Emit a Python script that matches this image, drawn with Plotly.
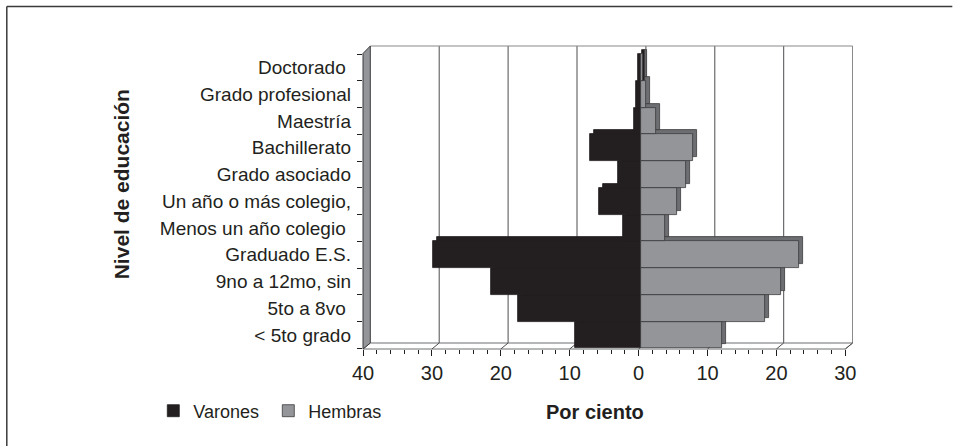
import plotly.graph_objects as go

# ---------------- data ----------------
categorias = ["< 5to grado", "5to a 8vo\u00a0", "9no a 12mo, sin", "Graduado E.S.",
              "Menos un año colegio\u00a0", "Un año o más colegio,", "Grado asociado",
              "Bachillerato", "Maestría", "Grado profesional", "Doctorado\u00a0"]
varones = [9.5, 17.8, 21.8, 30.2, 2.6, 6.0, 3.3, 7.4, 1.0, 0.65, 0.45]
hembras = [11.8, 18.0, 20.3, 23.0, 3.5, 5.2, 6.6, 7.6, 2.25, 0.8, 0.3]
tick_values = [-40, -30, -20, -10, 0, 10, 20, 30]
tick_labels = ["40", "30", "20", "10", "0", "10", "20", "30"]
minor_values = list(range(-40, 31, 2))

# ---------------- geometry (pixels) ----------------
W, H = 961, 446
PL, PR, PT, PB = 362.7, 852.7, 46.0, 349.0
pw, ph = PR - PL, PB - PT
SCALE = 6.89            # px per percent unit
BACK_DX = 7.3           # back wall offset (px)
FLOOR_DY = 6.0          # floor depth (px)
BAR_DX = 2.2            # bar front plane offset from axis front
DEPTH = 4.0             # bar extrusion (px)
BAND_BOTTOM, BAND_TOP = 348.3, 54.0
band_px = (BAND_BOTTOM - BAND_TOP) / len(categorias)

INK = "#231f20"
GRAY = "#939598"
GRAY_DARK = "#6d6e71"
FONT = "Liberation Sans, Arial, sans-serif"


def rng(shift_px):
    left = -40 - shift_px / SCALE
    return [left, left + pw / SCALE]


def xp(px):
    return (px - PL) / pw


def yp(py):
    return (PB - py) / ph


y_range = [-0.5 - (PB - BAND_BOTTOM) / band_px, len(categorias) - 0.5 + (BAND_TOP - PT) / band_px]
back_u = BACK_DX / SCALE

fig = go.Figure()

# depth (extrusion) faces, drawn first
fig.add_trace(go.Bar(y=categorias, x=[-v for v in varones], orientation="h", xaxis="x3",
                     width=1, offset=-0.5 + DEPTH / band_px,
                     marker=dict(color=INK, line=dict(color=INK, width=0.8)),
                     showlegend=False, hoverinfo="skip"))
fig.add_trace(go.Bar(y=categorias, x=hembras, orientation="h", xaxis="x3",
                     width=1, offset=-0.5 + DEPTH / band_px,
                     marker=dict(color=GRAY_DARK, line=dict(color="#3b3b3d", width=0.8)),
                     showlegend=False, hoverinfo="skip"))
# front faces
fig.add_trace(go.Bar(y=categorias, x=[-v for v in varones], orientation="h", xaxis="x4",
                     width=1, name="Varones",
                     marker=dict(color=INK, line=dict(color=INK, width=0.8))))
fig.add_trace(go.Bar(y=categorias, x=hembras, orientation="h", xaxis="x4",
                     width=1, name="Hembras",
                     marker=dict(color=GRAY, line=dict(color="#3b3b3d", width=0.8))))

shapes = []
# back wall gridlines & outline
for v in tick_values[1:-1]:
    shapes.append(dict(type="line", xref="x", yref="paper", x0=v + back_u, x1=v + back_u,
                       y0=yp(PB - FLOOR_DY), y1=1, line=dict(color="#4d4d4f", width=1), layer="below"))
shapes.append(dict(type="line", xref="x", yref="paper", x0=-40 + back_u, x1=30 + back_u,
                   y0=1, y1=1, line=dict(color="#8a8a8c", width=1.2), layer="below"))
shapes.append(dict(type="line", xref="x", yref="paper", x0=30 + back_u, x1=30 + back_u,
                   y0=yp(PB - FLOOR_DY), y1=1, line=dict(color="#8a8a8c", width=1.2), layer="below"))
# floor
shapes.append(dict(type="path", xref="paper", yref="paper",
                   path=f"M{xp(PL)},{yp(PB)} L{xp(PL + 70 * SCALE)},{yp(PB)} "
                        f"L{xp(PL + 70 * SCALE + BACK_DX)},{yp(PB - FLOOR_DY)} "
                        f"L{xp(PL + BACK_DX)},{yp(PB - FLOOR_DY)} Z",
                   fillcolor="white", line=dict(color="#6d6e71", width=1), layer="below"))
for v in tick_values[1:]:
    shapes.append(dict(type="line", xref="x", yref="paper", x0=v + back_u, x1=v,
                       y0=yp(PB - FLOOR_DY), y1=yp(PB), line=dict(color="#4d4d4f", width=1),
                       layer="below"))
# left wall
shapes.append(dict(type="path", xref="paper", yref="paper",
                   path=f"M{xp(PL)},{yp(PB)} L{xp(PL)},{yp(PT + FLOOR_DY + 1.5)} "
                        f"L{xp(PL + BACK_DX)},{yp(PT)} L{xp(PL + BACK_DX)},{yp(PB - FLOOR_DY)} Z",
                   fillcolor="#939598", line=dict(color="#3b3b3d", width=1), layer="above"))
# outer frame (top and left)
shapes.append(dict(type="line", xref="paper", yref="paper", x0=xp(6.5), x1=xp(952),
                   y0=yp(6.5), y1=yp(6.5), line=dict(color="#3b3b3d", width=1.5)))
shapes.append(dict(type="line", xref="paper", yref="paper", x0=xp(6.5), x1=xp(6.5),
                   y0=yp(6.5), y1=yp(446), line=dict(color="#3b3b3d", width=1.5)))

annotations = [
    dict(text="Por ciento", xref="paper", yref="paper", x=xp(595), y=yp(412),
         showarrow=False, xanchor="center", yanchor="middle",
         font=dict(family=FONT, size=20, color=INK, weight="bold")),
    dict(text="Nivel de educación", xref="paper", yref="paper", x=xp(121.5), y=yp(184.5),
         textangle=-90, showarrow=False, xanchor="center", yanchor="middle",
         font=dict(family=FONT, size=21, color=INK, weight="bold")),
]

fig.update_layout(
    width=W, height=H,
    margin=dict(l=PL, r=W - PR, t=PT, b=H - PB, pad=0),
    paper_bgcolor="white", plot_bgcolor="rgba(0,0,0,0)",
    barmode="overlay", bargap=0,
    font=dict(family=FONT, color=INK),
    showlegend=True,
    legend=dict(orientation="h", x=xp(153), y=yp(411), xanchor="left", yanchor="middle",
                font=dict(family=FONT, size=18, color=INK), bgcolor="rgba(0,0,0,0)",
                entrywidth=70, traceorder="normal", itemclick=False, itemdoubleclick=False),
    xaxis=dict(range=rng(0), domain=[0, 1], anchor="y", automargin=False,
               tickmode="array", tickvals=tick_values, ticktext=tick_labels,
               ticks="outside", ticklen=6, tickwidth=1, tickcolor=INK,
               minor=dict(tickmode="array", tickvals=minor_values, ticks="outside",
                          ticklen=4, tickwidth=1, tickcolor=INK, showgrid=False),
               showgrid=False, zeroline=False, showline=False,
               tickfont=dict(family=FONT, size=20, color=INK)),
    xaxis3=dict(range=rng(BAR_DX + DEPTH), overlaying="x", anchor="y", visible=False),
    xaxis4=dict(range=rng(BAR_DX), overlaying="x", anchor="y", visible=False),
    yaxis=dict(type="category", categoryorder="array", categoryarray=categorias,
               range=y_range, domain=[0, 1], automargin=False,
               ticks="outside", tickson="boundaries", ticklen=5, tickcolor=INK, tickwidth=1,
               ticklabelstandoff=11,
               showgrid=False, zeroline=False, showline=False,
               tickfont=dict(family=FONT, size=19, color=INK)),
    shapes=shapes,
    annotations=annotations,
)

fig.write_html("out.html", config={"displayModeBar": False},
               post_script="document.body.style.margin='0';")
